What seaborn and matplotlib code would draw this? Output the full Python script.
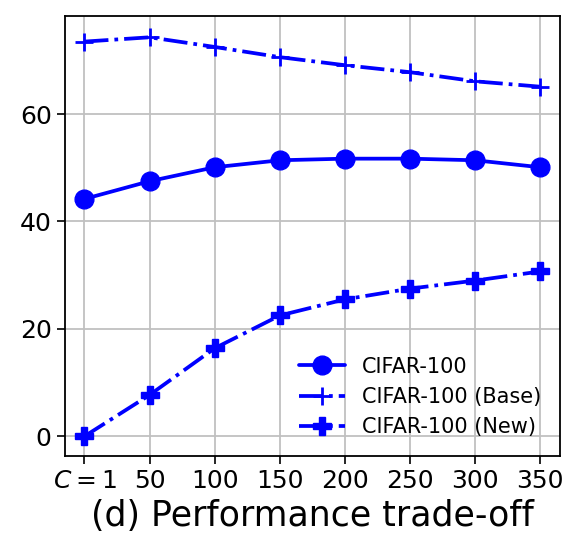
import numpy as np
import pandas as pd
import matplotlib.pyplot as plt
import seaborn as sns

# values
c_labels = ["$C=1$", "50", "100", "150", "200", "250", "300", "350"]
acc_all = [44.2, 47.5, 50.1, 51.4, 51.7, 51.7, 51.4, 50.1]
acc_base = [73.5, 74.3, 72.5, 70.6, 69.1, 67.8, 66.1, 65.1]
acc_new = [0.0, 7.7, 16.4, 22.5, 25.5, 27.5, 29.0, 30.7]

series = ["CIFAR-100", "CIFAR-100 (Base)", "CIFAR-100 (New)"]

sns.set_style("ticks")
plt.rcParams["font.family"] = ["DejaVu Sans"]
plt.rcParams["text.color"] = "black"
plt.rcParams["axes.labelcolor"] = "black"

pos = np.arange(len(c_labels))
df = pd.DataFrame({
    "pos": np.tile(pos, 3),
    "acc": acc_all + acc_base + acc_new,
    "series": np.repeat(series, len(pos)),
})

fig, ax = plt.subplots(figsize=(5.85, 5.45), dpi=100)

styles = {
    "CIFAR-100": dict(marker="o", ls="-", ms=13.5),
    "CIFAR-100 (Base)": dict(marker="+", ls="-.", ms=13, mew=2),
    "CIFAR-100 (New)": dict(marker="P", ls="-.", ms=12.5),
}
for name in series:
    sub = df[df["series"] == name]
    st = styles[name]
    sns.lineplot(data=sub, x="pos", y="acc", ax=ax, color="blue", lw=2.7,
                 marker=st["marker"], linestyle=st["ls"], markersize=st["ms"],
                 markeredgewidth=st.get("mew", 1), markeredgecolor="blue",
                 label=name)

ax.set_xticks(pos)
ax.set_xticklabels(c_labels)
ax.set_xlim(-0.3, 7.3)
ax.set_ylim(-3.7, 78.2)
ax.set_yticks([0, 20, 40, 60])
ax.grid(True, color="#c0c0c0", lw=1.3)
ax.tick_params(labelsize=18, length=6, width=1.2, colors="black")
for s in ax.spines.values():
    s.set_visible(True)
    s.set_linewidth(1.3)
    s.set_color("black")
ax.set_ylabel("")
ax.set_xlabel("(d) Performance trade-off", fontsize=25, color="black")
leg = ax.legend(loc="lower right", frameon=False, fontsize=15, handlelength=2.2,
                bbox_to_anchor=(1.0, 0.0))
for t in leg.get_texts():
    t.set_color("black")

fig.subplots_adjust(left=0.111, right=0.957, top=0.97, bottom=0.163)
fig.savefig("out.png", dpi=100)
